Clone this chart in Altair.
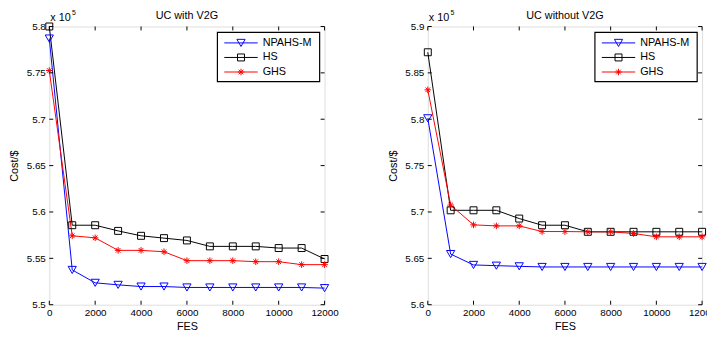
import altair as alt
import pandas as pd

FONT = "Liberation Sans"

fes = [0, 1000, 2000, 3000, 4000, 5000, 6000, 7000, 8000, 9000, 10000, 11000, 12000]
series = ["NPAHS-M", "HS", "GHS"]
colors = ["#0000ff", "#000000", "#ff0000"]

# values in units of 10^5 $
with_npahs = [5.787, 5.5375, 5.5236, 5.5214, 5.5196, 5.5196, 5.5186, 5.5186, 5.5186, 5.5186, 5.5186, 5.5186, 5.5179]
with_hs = [5.800, 5.5857, 5.5857, 5.5796, 5.5743, 5.5718, 5.5693, 5.5629, 5.5629, 5.5629, 5.5611, 5.5611, 5.5493]
with_ghs = [5.7525, 5.5743, 5.5721, 5.5586, 5.5586, 5.5571, 5.5475, 5.5475, 5.5475, 5.5464, 5.5464, 5.5432, 5.5432]

wo_npahs = [5.801, 5.6546, 5.6429, 5.6421, 5.6414, 5.6407, 5.6407, 5.6407, 5.6407, 5.6407, 5.6407, 5.6407, 5.6407]
wo_hs = [5.8722, 5.7018, 5.7018, 5.7018, 5.6929, 5.6857, 5.6857, 5.6786, 5.6786, 5.6786, 5.6786, 5.6786, 5.6786]
wo_ghs = [5.8317, 5.7075, 5.6861, 5.6850, 5.6850, 5.6789, 5.6789, 5.6786, 5.6786, 5.6768, 5.6732, 5.6732, 5.6732]

x_ticks = [0, 2000, 4000, 6000, 8000, 10000, 12000]
with_yticks = [5.5, 5.55, 5.6, 5.65, 5.7, 5.75, 5.8]
wo_yticks = [5.6, 5.65, 5.7, 5.75, 5.8, 5.85, 5.9]

ASTERISK = "M-1,0L1,0M0,-1L0,1M-0.7,-0.7L0.7,0.7M-0.7,0.7L0.7,-0.7"
shapes = ["triangle-down", "square", ASTERISK]
sizes = [70, 50, 45]

H = 283


def panel(title, vals, ydom, yticks, W):
    rows = []
    for s, v in zip(series, vals):
        for f, c in zip(fes, v):
            rows.append({"FES": f, "Cost": c, "Series": s})
    df = pd.DataFrame(rows)

    xscale = alt.Scale(domain=[0, 12000], nice=False, zero=False)
    yscale = alt.Scale(domain=ydom, nice=False, zero=False)
    xaxis = alt.Axis(values=x_ticks, format="d", title="FES", ticks=False, domain=False,
                     grid=False, labelPadding=3, titlePadding=3, titleFontWeight="normal",
                     labelFlush=False, labelOverlap=False, labelBound=False)
    yaxis = alt.Axis(values=yticks, format="~g", title="Cost/$", ticks=False, domain=False,
                     grid=False, labelPadding=4, titlePadding=2, minExtent=28, maxExtent=28,
                     titleFontWeight="normal", labelFlush=False, labelOverlap=False)
    color = alt.Color("Series:N", scale=alt.Scale(domain=series, range=colors), legend=None)

    base = alt.Chart(df)
    layers = []
    layers.append(base.mark_line(strokeWidth=1, clip=False).encode(
        x=alt.X("FES:Q", scale=xscale, axis=xaxis),
        y=alt.Y("Cost:Q", scale=yscale, axis=yaxis),
        color=color, detail="Series:N"))
    for s, c, sh, sz in zip(series, colors, shapes, sizes):
        layers.append(base.transform_filter(alt.datum.Series == s).mark_point(
            shape=sh, size=sz, filled=False, color=c, strokeWidth=1, opacity=1).encode(
            x=alt.X("FES:Q", scale=xscale, axis=xaxis),
            y=alt.Y("Cost:Q", scale=yscale, axis=yaxis)))

    # inward tick marks (MATLAB style)
    ydf = pd.DataFrame({"v": yticks})
    xdf = pd.DataFrame({"v": x_ticks})
    layers.append(alt.Chart(ydf).mark_rule(color="black", strokeWidth=1).encode(
        y=alt.Y("v:Q", scale=yscale, axis=yaxis), x=alt.value(0), x2=alt.value(4)))
    layers.append(alt.Chart(ydf).mark_rule(color="black", strokeWidth=1).encode(
        y=alt.Y("v:Q", scale=yscale, axis=yaxis), x=alt.value(W - 4), x2=alt.value(W)))
    layers.append(alt.Chart(xdf).mark_rule(color="black", strokeWidth=1).encode(
        x=alt.X("v:Q", scale=xscale, axis=xaxis), y=alt.value(0), y2=alt.value(4)))
    layers.append(alt.Chart(xdf).mark_rule(color="black", strokeWidth=1).encode(
        x=alt.X("v:Q", scale=xscale, axis=xaxis), y=alt.value(H - 4), y2=alt.value(H)))

    one = pd.DataFrame({"a": [0]})
    # exponent label
    layers.append(alt.Chart(one).mark_text(text="x 10", align="left", baseline="alphabetic",
                                           font=FONT, fontSize=11, color="black").encode(
        x=alt.value(1), y=alt.value(-6)))
    layers.append(alt.Chart(one).mark_text(text="5", align="left", baseline="alphabetic",
                                           font=FONT, fontSize=7, color="black").encode(
        x=alt.value(23), y=alt.value(-11.5)))

    # legend box
    lx0, lx1, ly0, ly1 = W - 109, W - 5, 6, 56
    layers.append(alt.Chart(one).mark_rect(fill="white", stroke="black", strokeWidth=1.2).encode(
        x=alt.value(lx0), x2=alt.value(lx1), y=alt.value(ly0), y2=alt.value(ly1)))
    for i, (s, c, sh, sz) in enumerate(zip(series, colors, shapes, sizes)):
        yy = 16.7 + 14.8 * i
        ld = pd.DataFrame({"label": [s]})
        layers.append(alt.Chart(ld).mark_rule(color=c, strokeWidth=1).encode(
            x=alt.value(lx0 + 7), x2=alt.value(lx0 + 41), y=alt.value(yy)))
        layers.append(alt.Chart(ld).mark_point(shape=sh, size=sz, filled=False, color=c,
                                               strokeWidth=1, opacity=1).encode(
            x=alt.value(lx0 + 24), y=alt.value(yy)))
        layers.append(alt.Chart(ld).mark_text(align="left", baseline="middle", font=FONT,
                                              fontSize=11, color="black").encode(
            x=alt.value(lx0 + 46), y=alt.value(yy), text="label:N"))

    return alt.layer(*layers).properties(
        width=W, height=H,
        title=alt.TitleParams(title, font=FONT, fontSize=11, fontWeight="normal",
                              color="black", offset=-12))


left = panel("UC with V2G", [with_npahs, with_hs, with_ghs], [5.5, 5.8], with_yticks, 280)
right = panel("UC without V2G", [wo_npahs, wo_hs, wo_ghs], [5.6, 5.9], wo_yticks, 279)

chart = alt.hconcat(left, right, spacing=48).properties(
    padding={"left": 0, "top": -2, "right": -10, "bottom": 0}
).configure_view(stroke="black", strokeWidth=1).configure_axis(
    labelFont=FONT, titleFont=FONT, labelFontSize=11, titleFontSize=11,
    labelColor="black", titleColor="black", titleFontWeight="normal"
).configure(background="white")

chart.save("out.html", embed_options={"renderer": "svg", "actions": False})
